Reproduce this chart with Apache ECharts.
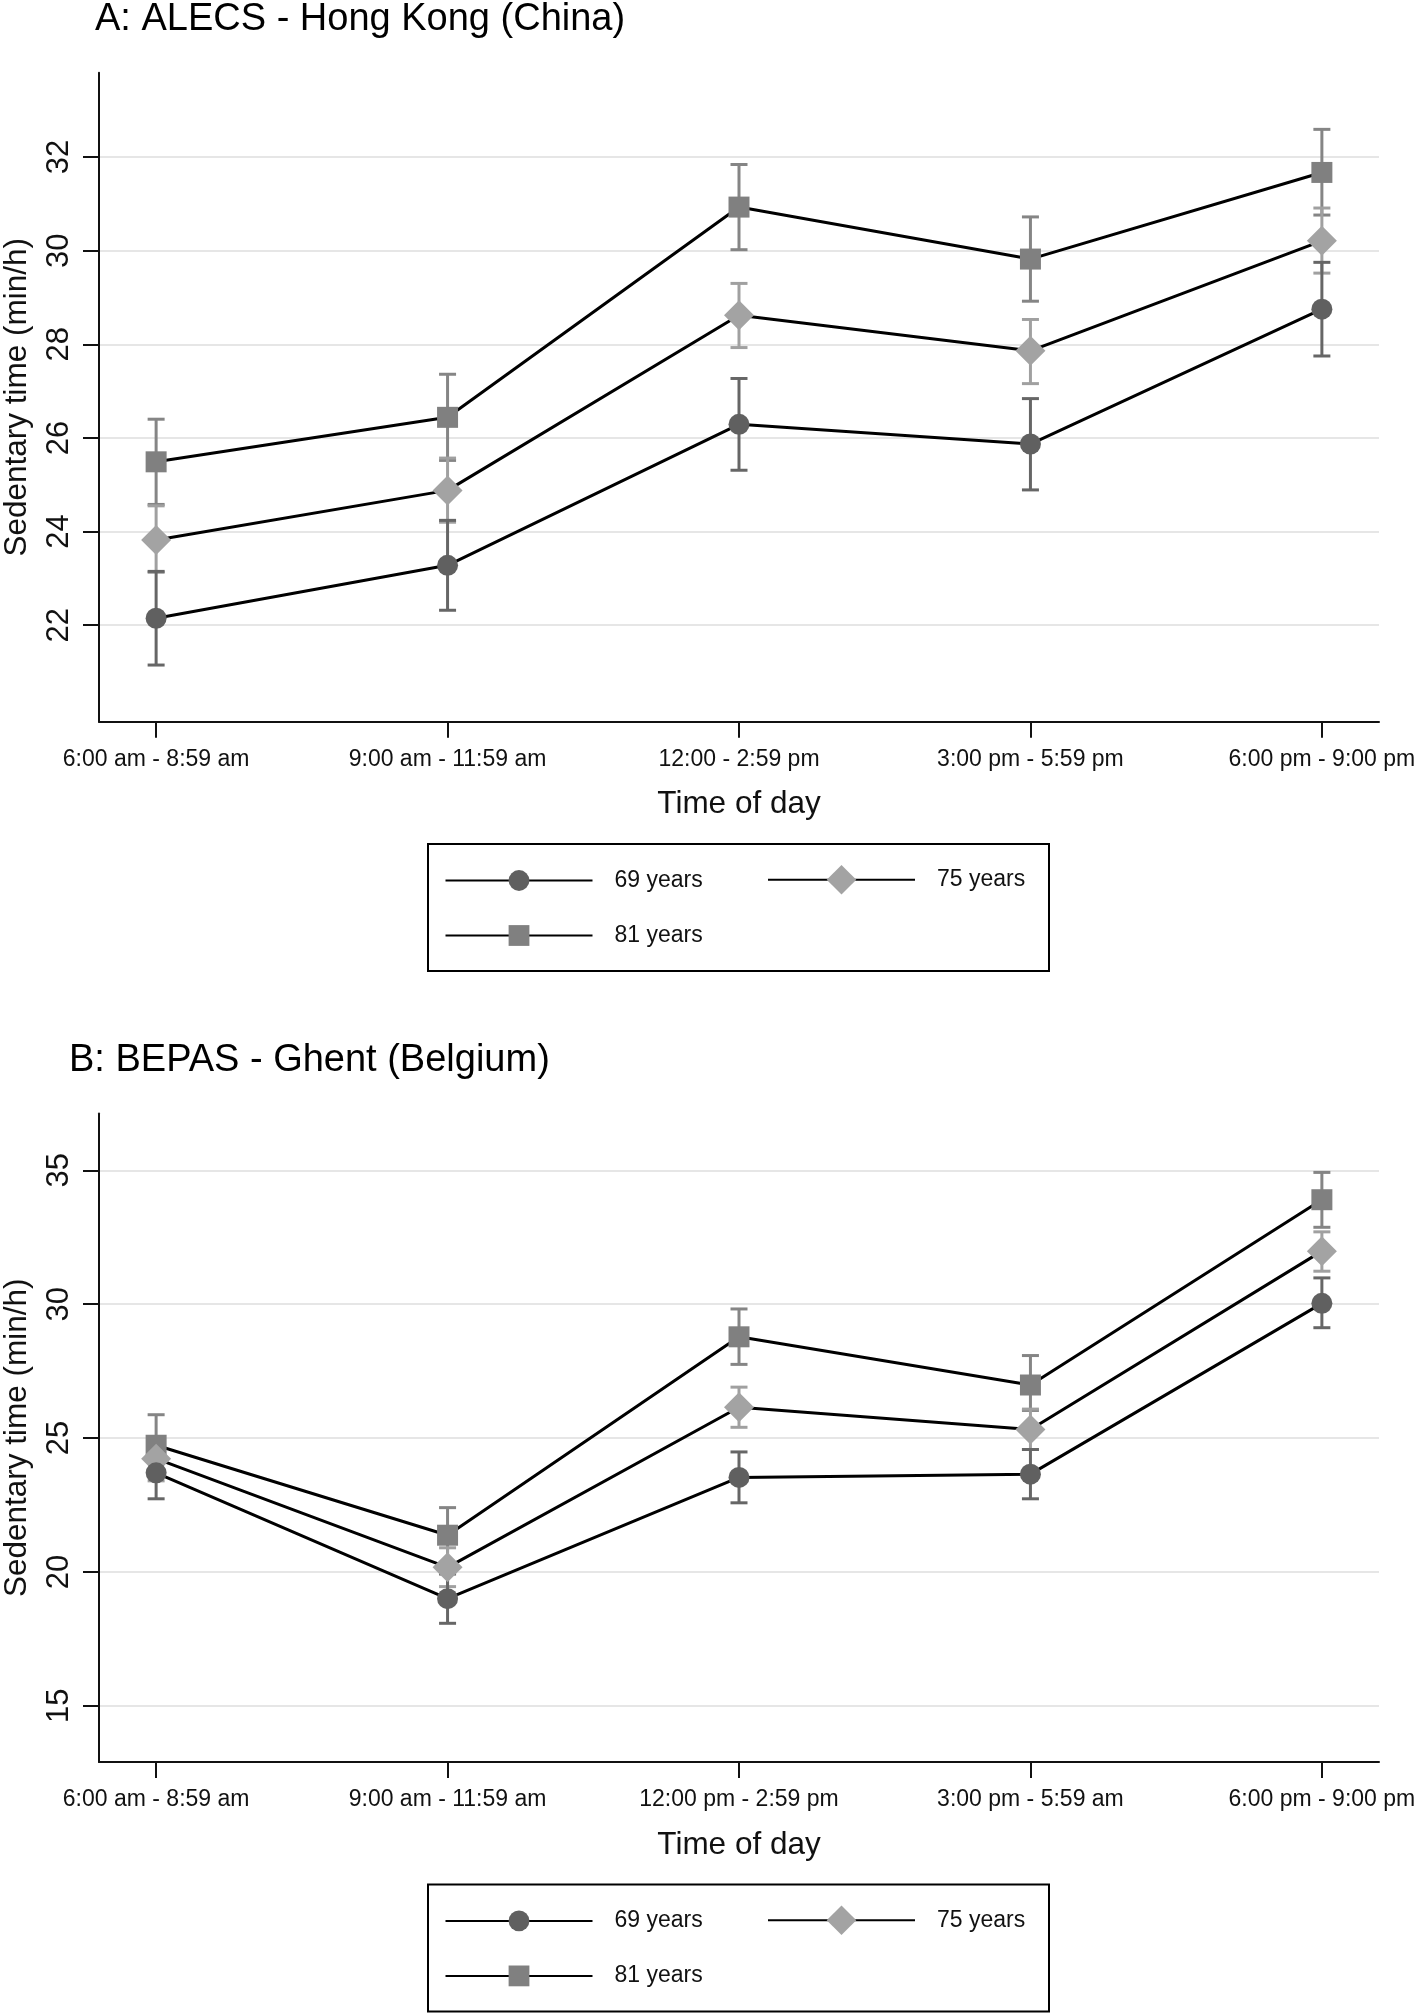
<!DOCTYPE html>
<html><head><meta charset="utf-8">
<script src="https://cdn.jsdelivr.net/npm/echarts@6/dist/echarts.min.js"></script>
<style>html,body{margin:0;padding:0;background:#fff}#c{width:1416px;height:2016px}</style>
</head><body><div id="c"></div>
<script>
// ---------- data ----------
const categoriesA = ['6:00 am - 8:59 am','9:00 am - 11:59 am','12:00 - 2:59 pm','3:00 pm - 5:59 pm','6:00 pm - 9:00 pm'];
const categoriesB = ['6:00 am - 8:59 am','9:00 am - 11:59 am','12:00 pm - 2:59 pm','3:00 pm - 5:59 am','6:00 pm - 9:00 pm'];
const seriesNames = ['69 years','75 years','81 years'];
const yTicksA = [22,24,26,28,30,32];
const yTicksB = [15,20,25,30,35];

// Panel A: ALECS - Hong Kong
const a69 = [22.15, 23.28, 26.29, 25.87, 28.75];
const a69Lo = [21.15, 22.32, 25.31, 24.89, 27.75];
const a69Hi = [23.15, 24.24, 27.27, 26.84, 29.75];
const a75 = [23.82, 24.88, 28.62, 27.86, 30.21];
const a75Lo = [23.13, 24.20, 27.93, 27.16, 29.52];
const a75Hi = [24.55, 25.57, 29.30, 28.53, 30.91];
const a81 = [25.49, 26.44, 30.93, 29.82, 31.67];
const a81Lo = [24.58, 25.52, 30.02, 28.92, 30.76];
const a81Hi = [26.40, 27.36, 31.84, 30.72, 32.59];

// Panel B: BEPAS - Ghent
const b69 = [23.70, 19.00, 23.53, 23.65, 30.03];
const b69Lo = [22.73, 18.08, 22.58, 22.73, 29.12];
const b69Hi = [24.67, 19.92, 24.48, 24.57, 30.98];
const b75 = [24.23, 20.17, 26.15, 25.32, 31.98];
const b75Lo = [23.40, 19.45, 25.40, 24.57, 31.23];
const b75Hi = [25.05, 20.90, 26.90, 26.08, 32.70];
const b81 = [24.73, 21.37, 28.78, 26.98, 33.90];
const b81Lo = [23.65, 20.34, 27.75, 26.03, 32.87];
const b81Hi = [25.87, 22.40, 29.82, 28.08, 34.92];

// ---------- styling ----------
const FONT = 'Liberation Sans, Arial, sans-serif';
const TXT = '#111';
const markerColors = ['#606060', '#a3a3a3', '#808080'];
const barColors = ['#666666', '#a0a0a0', '#858585'];
const symbols = ['circle', 'diamond', 'rect'];
const symbolSizes = [21, 30, 21];

const idx = categoriesA.map((_, i) => i);

function makeX(gi, cats) {
  return {
    type: 'value', gridIndex: gi, min: -0.196, max: 4.196,
    axisLine: {show: true, onZero: false, lineStyle: {color: TXT, width: 2}},
    axisTick: {show: true, length: 16, customValues: idx, lineStyle: {color: TXT, width: 2}},
    axisLabel: {customValues: idx, formatter: v => cats[Math.round(v)], fontSize: 23, color: TXT, margin: 26, fontFamily: FONT},
    splitLine: {show: false},
    name: 'Time of day', nameLocation: 'middle', nameGap: 67,
    nameTextStyle: {fontSize: 31.5, color: TXT, fontFamily: FONT}
  };
}
function makeY(gi, min, max, ticks) {
  return {
    type: 'value', gridIndex: gi, min: min, max: max,
    axisLine: {show: true, onZero: false, lineStyle: {color: TXT, width: 2}},
    axisTick: {show: true, length: 16, customValues: ticks, lineStyle: {color: TXT, width: 2}},
    axisLabel: {customValues: ticks, rotate: 90, fontSize: 31, color: TXT, margin: 24, fontFamily: FONT},
    splitLine: {show: true, lineStyle: {color: '#e6e6e6', width: 2}},
    name: 'Sedentary time (min/h)', nameLocation: 'middle', nameGap: 66,
    nameTextStyle: {fontSize: 31.5, color: TXT, fontFamily: FONT}
  };
}
function errRender(color) {
  return function (params, api) {
    const x = api.value(0);
    const lo = api.coord([x, api.value(1)]);
    const hi = api.coord([x, api.value(2)]);
    const h = 8.5;
    const style = {stroke: color, lineWidth: 3};
    return {type: 'group', children: [
      {type: 'line', shape: {x1: lo[0], y1: lo[1], x2: hi[0], y2: hi[1]}, style: style},
      {type: 'line', shape: {x1: lo[0] - h, y1: lo[1], x2: lo[0] + h, y2: lo[1]}, style: style},
      {type: 'line', shape: {x1: hi[0] - h, y1: hi[1], x2: hi[0] + h, y2: hi[1]}, style: style}
    ]};
  };
}

const panels = [
  {vals: [a69, a75, a81], lo: [a69Lo, a75Lo, a81Lo], hi: [a69Hi, a75Hi, a81Hi]},
  {vals: [b69, b75, b81], lo: [b69Lo, b75Lo, b81Lo], hi: [b69Hi, b75Hi, b81Hi]}
];

const series = [];
panels.forEach((p, gi) => {
  [2, 1, 0].forEach(k => {
    series.push({
      type: 'custom', name: seriesNames[k] + ' CI', xAxisIndex: gi, yAxisIndex: gi,
      encode: {x: 0, y: [1, 2]}, silent: true, z: 1,
      data: idx.map(i => [i, p.lo[k][i], p.hi[k][i]]),
      renderItem: errRender(barColors[k])
    });
  });
  [2, 1, 0].forEach(k => {
    series.push({
      type: 'line', name: seriesNames[k], xAxisIndex: gi, yAxisIndex: gi, z: 3,
      data: idx.map(i => [i, p.vals[k][i]]),
      symbol: symbols[k], symbolSize: symbolSizes[k], showSymbol: true,
      lineStyle: {color: '#000', width: 3},
      itemStyle: {color: markerColors[k], borderWidth: 0},
      emphasis: {disabled: true}, silent: true
    });
  });
});

const dy = 1040.4; // vertical offset of panel B
function legendsFor(off) {
  const base = {orient: 'horizontal', padding: 0, itemWidth: 147, itemGap: 0, selectedMode: false,
    textStyle: {fontSize: 23, color: TXT, fontFamily: FONT, padding: [0, 0, 0, 17]}};
  return [
    Object.assign({}, base, {left: 444.5, top: 869 + off, itemHeight: 26, data: ['69 years']}),
    Object.assign({}, base, {left: 767, top: 865 + off, itemHeight: 37, data: ['75 years']}),
    Object.assign({}, base, {left: 444.5, top: 924 + off, itemHeight: 26, data: ['81 years']})
  ];
}

const option = {
  backgroundColor: '#fff',
  animation: false,
  textStyle: {fontFamily: FONT},
  title: [
    {text: 'A: ALECS - Hong Kong (China)', left: 95, top: 1, padding: 0,
     textStyle: {fontSize: 38, fontWeight: 'normal', color: '#000', fontFamily: FONT}},
    {text: 'B: BEPAS - Ghent (Belgium)', left: 69, top: 1 + dy, padding: 0,
     textStyle: {fontSize: 38, fontWeight: 'normal', color: '#000', fontFamily: FONT}}
  ],
  grid: [
    {left: 99, right: 37, top: 72.7, height: 649, containLabel: false, outerBoundsMode: 'none'},
    {left: 99, right: 37, top: 1113.5, height: 648.5, containLabel: false, outerBoundsMode: 'none'}
  ],
  xAxis: [makeX(0, categoriesA), makeX(1, categoriesB)],
  yAxis: [makeY(0, 19.94, 33.8, yTicksA), makeY(1, 12.9, 37.12, yTicksB)],
  legend: legendsFor(0).concat(legendsFor(dy)),
  graphic: [
    {type: 'rect', shape: {x: 428, y: 844, width: 621, height: 127}, style: {fill: 'none', stroke: '#000', lineWidth: 2}},
    {type: 'rect', shape: {x: 428, y: 844 + dy, width: 621, height: 127}, style: {fill: 'none', stroke: '#000', lineWidth: 2}}
  ],
  series: series
};
const chart = echarts.init(document.getElementById('c'), null, {renderer: 'canvas'});
chart.setOption(option);
</script>
</body></html>
